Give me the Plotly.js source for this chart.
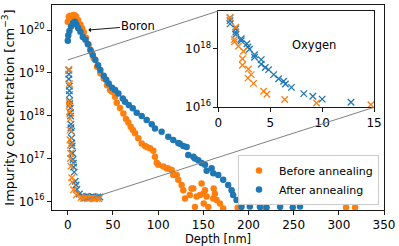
<!DOCTYPE html>
<html>
<head>
<meta charset="utf-8">
<script src="https://cdn.plot.ly/plotly-3.0.1.min.js"></script>
<style>html,body{margin:0;padding:0;background:#fff;}#chart{width:399px;height:246px;}</style>
</head>
<body>
<div id="chart"></div>
<script>
// Boron, before annealing (depth nm, concentration cm^-3)
const depthBefore = [0,1.1,2.5,4,5.5,6.6,8,9.2,11.4,13.9,15.8,17.7,20.2,23.2,26.1,28.7,32.4,36,39.8,43.4,46.8,49,52.3,54.2,57.8,61.5,64.5,67,69.6,72,74.4,78,81.8,85.5,88,91,94.6,96.5,98.4,100.2,105.7,109.4,111.2,115,116.7,120.5,122.3,126,127.8,129.7,135,137,138.9,140.7,142.6,146.3,148.1,150,150.5,151.8,153.7,155.5,161,161.5,162.8,164.7,168.4,172,188,216,308,318];
const boronBefore = [1.55e20,2.04e20,2.14e20,1.95e20,2.14e20,2.24e20,2.19e20,2.04e20,1.7e20,1.35e20,1.1e20,8.9e19,6.5e19,4.5e19,3.1e19,2.2e19,1.38e19,9.8e18,7.4e18,5.1e18,4.0e18,3.6e18,2.75e18,2.0e18,1.51e18,1.12e18,8.3e17,6.9e17,5.5e17,4.6e17,3.9e17,2.95e17,2.24e17,1.95e17,1.82e17,1.74e17,1.51e17,1.1e17,7.9e16,7.1e16,6.5e16,5.9e16,5.8e16,5.4e16,4.1e16,4.1e16,3.2e16,2.4e16,1.8e16,1.17e16,1.4e16,2.0e16,2.0e16,7.4e15,1.3e16,1.4e16,2.6e16,1.5e16,8.9e15,1.8e16,1.3e16,7.4e15,1.17e16,2.0e16,1.5e16,1.07e16,8.9e15,6.8e15,7.1e15,6.9e15,7.2e15,7.2e15];

// Boron, after annealing
const depthAfter = [0,0.5,1.8,3.6,5.9,7.7,9.5,11.4,13.9,16.6,19.5,22.1,25,27.6,30.5,33.5,36,39.8,42.5,45.3,49,52.3,56,60.8,63.3,67.5,71.9,76.3,81.8,87.3,92.9,96.5,103.9,111.2,116.7,122.3,124,127.8,131.5,133.3,138.9,140.7,144.4,148.1,151.8,153.7,159.2,161,166.5,172,177.5,181.3,183,186.8,192.3,201.5,212.6,220,235,249,257];
const boronAfter = [5.6e19,7.4e19,9.5e19,1.2e20,1.45e20,1.55e20,1.35e20,1.12e20,9.1e19,6.9e19,5.9e19,4.7e19,3.4e19,2.6e19,2.0e19,1.5e19,1.17e19,8.5e18,6.9e18,5.6e18,4.5e18,4.0e18,3.3e18,2.5e18,2.1e18,1.78e18,1.48e18,1.17e18,9.8e17,7.9e17,6.3e17,5.0e17,4.2e17,3.2e17,2.7e17,2.3e17,2.2e17,1.95e17,1.85e17,1.2e17,1.1e17,1.0e17,9.1e16,7.8e16,7.1e16,5.2e16,5.9e16,4.5e16,4.1e16,3.2e16,2.4e16,1.8e16,1.4e16,1.07e16,7.4e15,7.6e15,7.4e15,7.2e15,7.4e15,7.2e15,7.6e15];

// Oxygen, before annealing
const oxyDepthBefore = [1.13,1.68,1.55,1.55,1.94,2.42,2.32,2.32,2.9,3.17,2.85,3.39,4.36,4.68,6.39,9.46,14.7,17,19.5,22,24.5,27,29.5,32,34.5];
const oxyBefore = [1.2e19,5.6e18,2.1e18,1.74e18,1.23e18,8.3e17,4.6e17,2.75e17,2.04e17,1.32e17,1.0e17,6.6e16,3.55e16,2.8e16,1.86e16,1.41e16,1.23e16,1.17e16,1.2e16,1.15e16,1.17e16,1.2e16,1.15e16,1.17e16,1.15e16];

// Oxygen, after annealing
const oxyDepthAfter = [1.13,1.13,1.13,1.68,1.68,1.68,2.2,2.2,2.75,2.84,3.0,3.49,3.49,4.13,4.13,4.52,4.84,5.33,5.81,6.29,6.46,7.04,8.23,9.1,10.0,12.78,16,18,20.5,23,25.5,28,30.5,33,35.5];
const oxyAfter = [1.15e19,9.3e18,7.2e18,4.9e18,3.8e18,3.1e18,2.24e18,1.9e18,1.5e18,1.17e18,9.8e17,6.3e17,5.2e17,4.3e17,3.0e17,2.3e17,1.95e17,1.32e17,9.5e16,7.8e16,6.3e16,4.8e16,2.95e16,2.4e16,1.9e16,1.48e16,1.32e16,1.26e16,1.29e16,1.23e16,1.26e16,1.29e16,1.23e16,1.26e16,1.26e16];

const seriesNames = ["Before annealing", "After annealing"];
const xTicks = [0,50,100,150,200,250,300,350];
const yTickVals = [1e16,1e17,1e18,1e19,1e20];
const yTickText = ["10<sup>16</sup>","10<sup>17</sup>","10<sup>18</sup>","10<sup>19</sup>","10<sup>20</sup>"];
const insetXTicks = [0,5,10,15];
const insetYTickVals = [1e16,1e18];
const insetYTickText = ["10<sup>16</sup>","10<sup>18</sup>"];
const zoomBox = {x0: 0, x1: 15, y0: 1e16, y1: 2e19};

const ORANGE = "#ff7f0e", BLUE = "#1f77b4";
const FONT = "DejaVu Sans, Liberation Sans, sans-serif";
const FS = 12;

const xRange = [-17.5, 350];
const yRange = [15.797, 20.584];
const inXDom = [0.501, 0.970];
const inYDom = [0.501, 0.971];
const inXRange = [zoomBox.x0, zoomBox.x1];
const inYRange = [Math.log10(zoomBox.y0), Math.log10(zoomBox.y1)];

function dot(color){ return {size: 6.5, color: color}; }
function cross(color){ return {symbol: "x-thin", size: 6.5, color: color, line: {color: color, width: 1.3}}; }

const traces = [
  {x: depthBefore, y: boronBefore, type: "scatter", mode: "markers", name: seriesNames[0], marker: dot(ORANGE), xaxis: "x", yaxis: "y"},
  {x: depthAfter, y: boronAfter, type: "scatter", mode: "markers", name: seriesNames[1], marker: dot(BLUE), xaxis: "x", yaxis: "y"},
  {x: oxyDepthAfter, y: oxyAfter, type: "scatter", mode: "markers", showlegend: false, marker: cross(BLUE), xaxis: "x", yaxis: "y"},
  {x: oxyDepthBefore, y: oxyBefore, type: "scatter", mode: "markers", showlegend: false, marker: cross(ORANGE), xaxis: "x", yaxis: "y"},
  {x: oxyDepthAfter, y: oxyAfter, type: "scatter", mode: "markers", showlegend: false, marker: cross(BLUE), xaxis: "x2", yaxis: "y2"},
  {x: oxyDepthBefore, y: oxyBefore, type: "scatter", mode: "markers", showlegend: false, marker: cross(ORANGE), xaxis: "x2", yaxis: "y2"}
];

function mainPX(v){ return (v - xRange[0]) / (xRange[1] - xRange[0]); }
function mainPY(v){ return (Math.log10(v) - yRange[0]) / (yRange[1] - yRange[0]); }
function inPX(v){ return inXDom[0] + (v - inXRange[0]) / (inXRange[1] - inXRange[0]) * (inXDom[1] - inXDom[0]); }
function inPY(v){ return inYDom[0] + (Math.log10(v) - inYRange[0]) / (inYRange[1] - inYRange[0]) * (inYDom[1] - inYDom[0]); }

const GRAY = "#808080";
const shapes = [
  {type: "rect", xref: "x", yref: "y", x0: zoomBox.x0, x1: zoomBox.x1, y0: Math.log10(zoomBox.y0), y1: Math.log10(zoomBox.y1), line: {color: GRAY, width: 1}, fillcolor: "rgba(0,0,0,0)"},
  {type: "line", xref: "paper", yref: "paper", x0: mainPX(zoomBox.x0), y0: mainPY(zoomBox.y1), x1: inPX(zoomBox.x0), y1: inPY(zoomBox.y1), line: {color: GRAY, width: 1}},
  {type: "line", xref: "paper", yref: "paper", x0: mainPX(zoomBox.x1), y0: mainPY(zoomBox.y0), x1: inPX(zoomBox.x1), y1: inPY(zoomBox.y0), line: {color: GRAY, width: 1}}
];

const axisCommon = {
  showline: true, mirror: true, linecolor: "#000", linewidth: 0.9,
  ticks: "outside", ticklen: 4, tickwidth: 0.9, tickcolor: "#000",
  showgrid: false, zeroline: false, tickfont: {family: FONT, size: FS, color: "#000"}
};

const layout = {
  width: 399, height: 246,
  margin: {l: 52, r: 15, t: 5, b: 36},
  paper_bgcolor: "#fff", plot_bgcolor: "#fff",
  font: {family: FONT, size: FS, color: "#000"},
  showlegend: true,
  legend: {x: 0.985, y: 0.025, xanchor: "right", yanchor: "bottom", bgcolor: "rgba(255,255,255,0.8)", bordercolor: "#cccccc", borderwidth: 1, tracegroupgap: 0, itemwidth: 30, font: {family: FONT, size: 11, color: "#000"}},
  xaxis: Object.assign({}, axisCommon, {domain: [0,1], range: xRange, tickmode: "array", tickvals: xTicks, title: {text: "Depth [nm]", font: {family: FONT, size: 11.5}, standoff: 2}}),
  yaxis: Object.assign({}, axisCommon, {domain: [0,1], type: "log", range: yRange, tickmode: "array", tickvals: yTickVals, ticktext: yTickText, title: {text: "Impurity concentration [cm<sup>\u22123</sup>]", font: {family: FONT, size: 13}}}),
  xaxis2: Object.assign({}, axisCommon, {domain: inXDom, anchor: "y2", range: inXRange, tickmode: "array", tickvals: insetXTicks}),
  yaxis2: Object.assign({}, axisCommon, {domain: inYDom, anchor: "x2", type: "log", range: inYRange, tickmode: "array", tickvals: insetYTickVals, ticktext: insetYTickText}),
  shapes: shapes,
  annotations: [
    {xref: "x", yref: "y", x: 22.8, y: 20, text: "Boron", showarrow: true, arrowhead: 1, arrowsize: 0.9, arrowwidth: 0.9, arrowcolor: "#000", ax: 50, ay: -4, font: {family: FONT, size: 11.5, color: "#000"}},
    {xref: "x2", yref: "y2", x: 9.2, y: 18.13, text: "Oxygen", showarrow: false, font: {family: FONT, size: 11.5, color: "#000"}}
  ]
};

Plotly.newPlot("chart", traces, layout, {staticPlot: true, displayModeBar: false});
</script>
</body>
</html>
